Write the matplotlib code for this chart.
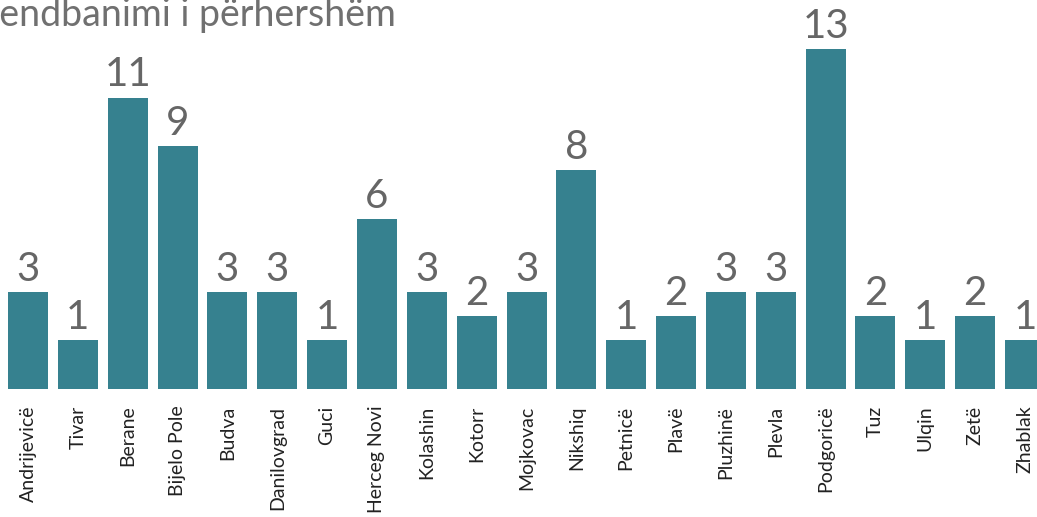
import matplotlib
matplotlib.use("Agg")
import matplotlib.pyplot as plt

# -------------------------------
# Data
# -------------------------------
title = "Vendbanimi i përhershëm"
municipalities = ["Andrijevicë", "Tivar", "Berane", "Bijelo Pole", "Budva",
                  "Danilovgrad", "Guci", "Herceg Novi", "Kolashin", "Kotorr",
                  "Mojkovac", "Nikshiq", "Petnicë", "Plavë", "Pluzhinë",
                  "Plevla", "Podgoricë", "Tuz", "Ulqin", "Zetë", "Zhablak"]
counts = [3, 1, 11, 9, 3, 3, 1, 6, 3, 2, 3, 8, 1, 2, 3, 3, 13, 2, 1, 2, 1]

plt.rcParams['font.family'] = ['Lato', 'DejaVu Sans']

W, H = 1037, 517
pitch = 49.85  # pixels between bar centres
fig = plt.figure(figsize=(W / 100, H / 100), dpi=100)
ax = fig.add_axes([0, (H - 389) / H, 1, 389 / H])

base = -1
x = range(len(counts))
ax.bar(x, [c - base for c in counts], bottom=base, width=40 / pitch, color="#36818f")

for xi, c in zip(x, counts):
    ax.annotate(str(c), (xi, c), xytext=(0, 3), textcoords="offset points",
                ha="center", va="bottom", fontsize=29, color="#666666")

ax.set_xlim(-28 / pitch, (W - 28) / pitch)
ax.set_ylim(base, 365 / 24.3)
ax.set_xticks(list(x))
ax.set_xticklabels(municipalities, rotation=90, fontsize=14, color="#222222")
ax.tick_params(axis="x", length=0, pad=12)
ax.set_yticks([])
for s in ax.spines.values():
    s.set_visible(False)

fig.text(-0.025, 1.005, title, ha="left", va="top", fontsize=27, color="#707070")

fig.savefig("out.png", dpi=100)
